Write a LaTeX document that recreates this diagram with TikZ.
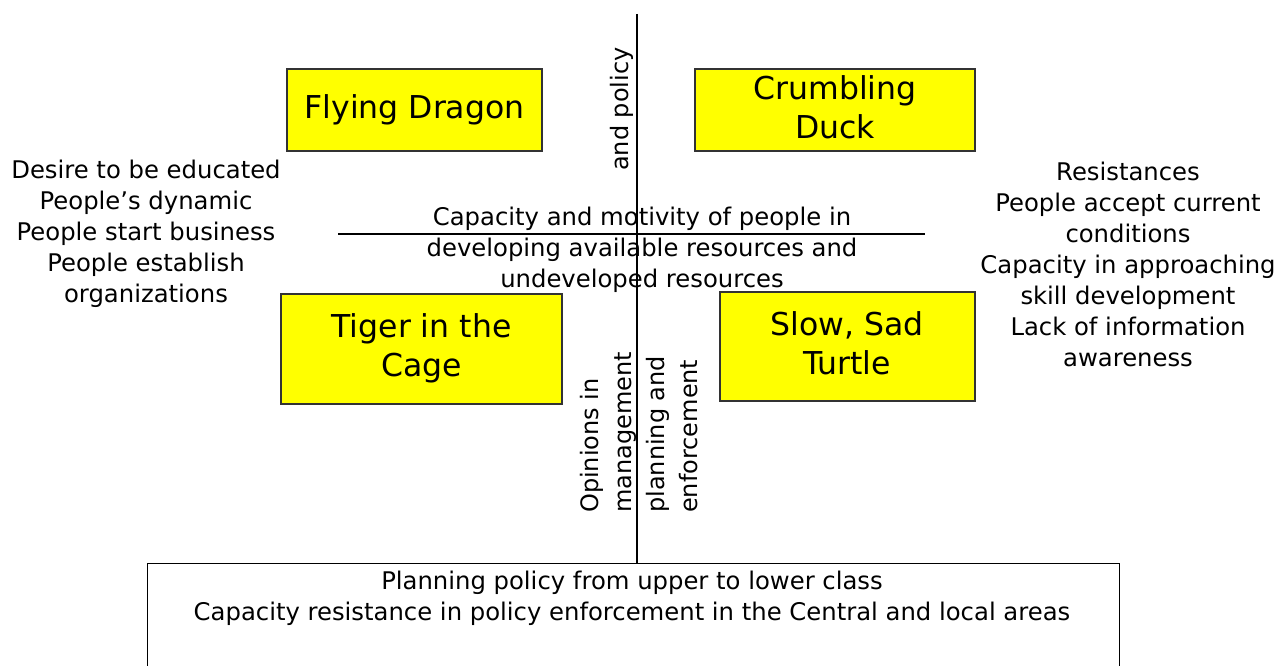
\documentclass[tikz,border=0pt]{standalone}
\usepackage{fontspec}
\setmainfont{DejaVu Sans}
\definecolor{qyellow}{RGB}{255,255,0}
\begin{document}
\begin{tikzpicture}[x=1pt,y=-1pt,
  quad/.style={draw=black!80,line width=1.3pt,fill=qyellow,inner sep=0pt},
  qtitle/.style={font=\fontsize{31.5}{39}\selectfont,align=center,inner sep=0pt},
  body/.style={font=\fontsize{24.3}{31}\selectfont,align=center,inner sep=0pt},
  rot/.style={font=\fontsize{24}{33}\selectfont,align=left,inner sep=0pt,rotate=90,anchor=west},
  axis/.style={line width=1.2pt,draw=black}]
\useasboundingbox (0,0) rectangle (1279,666);
% boxes
\draw[quad] (287,69) rectangle (542,151);
\draw[quad] (695,69) rectangle (975,151);
\draw[quad] (281,294) rectangle (562,404);
\draw[quad] (720,292) rectangle (975,401);
\node[draw=black,line width=1.3pt,minimum width=972pt,minimum height=120pt,anchor=north west,inner sep=0pt] (bottom) at (147,563) {};
% axes
\coordinate (vtop) at (637,14);
\coordinate (hl) at (338,234);
\coordinate (hr) at (925,234);
\draw[axis] (vtop) -- (bottom.north -| vtop);
\draw[axis] (hl) -- (hr);
% titles
\node[qtitle] (fd) at (414.5,110) {Flying Dragon};
\node[qtitle] (cd) at (835,107) {Crumbling\\Duck};
\node[qtitle] (tc) at (421.5,348) {Tiger in the\\Cage};
\node[qtitle] (st) at (847,343) {Slow, Sad\\Turtle};
% texts
\node[body] (left) at (146,234) {Desire to be educated\\People’s dynamic\\People start business\\People establish\\organizations};
\node[body] (right) at (1128,264) {Resistances\\People accept current\\conditions\\Capacity in approaching\\skill development\\Lack of information\\awareness};
\node[body] (center) at (642,250) {Capacity and motivity of people in\\developing available resources and\\undeveloped resources};
\node[body] (bt) at (632,598) {Planning policy from upper to lower class\\Capacity resistance in policy enforcement in the Central and local areas};
\node[rot] (pol) at (622,171) {and policy};
\node[rot] (op) at (608,513) {Opinions in\\management};
\node[rot] (pl) at (672,513) {planning and\\enforcement};
\end{tikzpicture}
\end{document}
